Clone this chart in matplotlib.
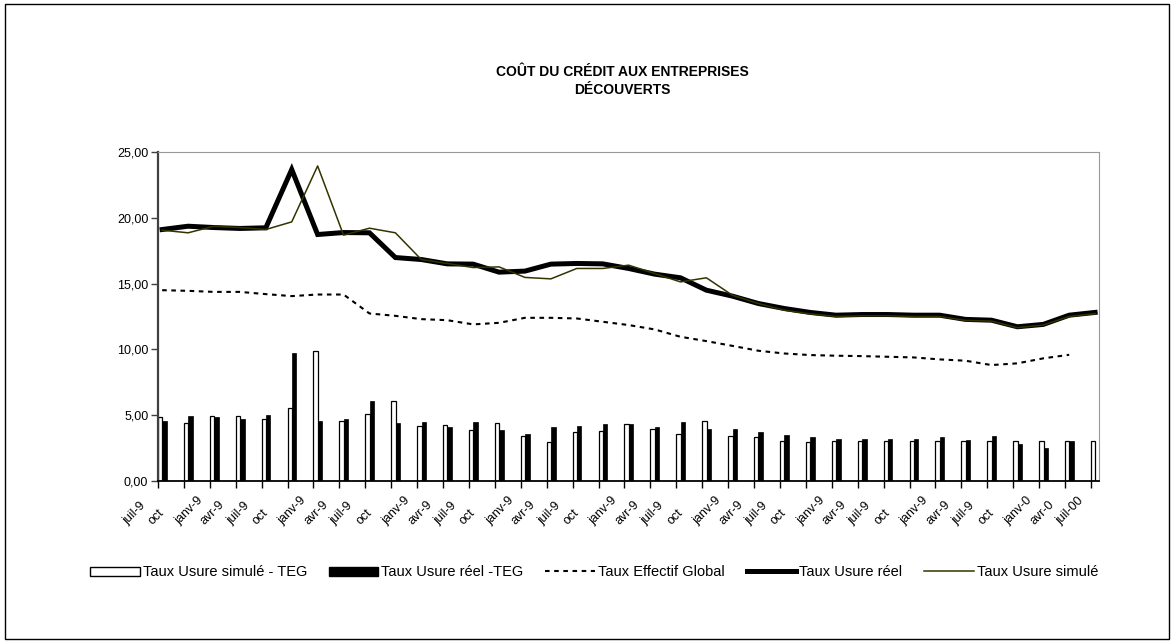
import numpy as np
import matplotlib
matplotlib.use('Agg')
import matplotlib.pyplot as plt
from matplotlib.patches import Rectangle, Patch
from matplotlib.lines import Line2D
from matplotlib.transforms import ScaledTranslation

plt.rcParams['font.family'] = ['Liberation Sans', 'DejaVu Sans']

# trimestres juil-91 .. juil-00 (libellés tronqués comme sur l'original)
etiquettes = ['juil-9', 'oct', 'janv-9', 'avr-9'] * 8 + ['juil-9', 'oct', 'janv-0', 'avr-0', 'juil-00']

usure_reel = [19.11, 19.36, 19.26, 19.19, 19.24, 23.67, 18.73, 18.88, 18.86, 16.98,
              16.83, 16.50, 16.48, 15.87, 15.95, 16.48, 16.53, 16.50, 16.15, 15.72,
              15.44, 14.50, 14.05, 13.49, 13.11, 12.81, 12.60, 12.65, 12.65, 12.60,
              12.60, 12.28, 12.22, 11.72, 11.90, 12.60, 12.81]
usure_simule = [19.06, 18.86, 19.36, 19.26, 19.11, 19.69, 23.94, 18.68, 19.21, 18.86,
                16.83, 16.53, 16.22, 16.27, 15.47, 15.36, 16.15, 16.15, 16.40, 15.77,
                15.13, 15.44, 14.12, 13.49, 12.98, 12.70, 12.50, 12.55, 12.55, 12.50,
                12.50, 12.20, 12.15, 11.65, 11.85, 12.50, 12.72]
teg = [14.50, 14.45, 14.37, 14.37, 14.20, 14.05, 14.17, 14.17, 12.73, 12.55,
       12.30, 12.22, 11.90, 12.02, 12.40, 12.40, 12.35, 12.10, 11.85, 11.52,
       10.96, 10.63, 10.27, 9.90, 9.69, 9.57, 9.52, 9.49, 9.44, 9.39,
       9.24, 9.14, 8.81, 8.94, 9.32, 9.59, np.nan]
simule_moins_teg = [4.88, 4.38, 4.93, 4.91, 4.68, 5.52, 9.90, 4.55, 5.06, 6.10,
                    4.18, 4.25, 3.87, 4.43, 3.44, 2.99, 3.72, 3.80, 4.30, 3.92,
                    3.60, 4.53, 3.44, 3.32, 3.06, 2.99, 3.01, 3.01, 3.01, 3.01,
                    3.01, 3.01, 3.01, 3.01, 3.01, 3.01, 3.01]
reel_moins_teg = [4.55, 4.93, 4.83, 4.73, 5.01, 9.69, 4.55, 4.73, 6.07, 4.40,
                  4.50, 4.12, 4.50, 3.87, 3.57, 4.07, 4.20, 4.35, 4.30, 4.12,
                  4.50, 3.95, 3.92, 3.70, 3.47, 3.34, 3.16, 3.21, 3.21, 3.16,
                  3.37, 3.11, 3.44, 2.81, 2.53, 3.01, np.nan]

x = np.arange(len(etiquettes))
olive = '#333300'

fig = plt.figure(figsize=(11.74, 6.43), dpi=100)
ax = fig.add_axes([158/1174, 1 - 481/643, (1099 - 158)/1174, (481 - 152)/643])

ax.bar(x + 0.085, simule_moins_teg, width=0.17, color='white', edgecolor='black', linewidth=0.9, zorder=2)
ax.bar(x + 0.255, reel_moins_teg, width=0.17, color='black', edgecolor='black', linewidth=0.5, zorder=2)
ax.plot(x + 0.16, teg, color='black', lw=1.5, linestyle=(0, (2.2, 2.2)), zorder=3)
ax.plot(x + 0.16, usure_reel, color='black', lw=3.6, solid_joinstyle='miter', zorder=3)
ax.plot(x + 0.16, usure_simule, color=olive, lw=1.1, zorder=4)

ax.set_xlim(0, 36.31)
ax.set_ylim(0, 25)
ax.set_yticks(np.arange(0, 26, 5))
ax.set_yticklabels([('%.2f' % v).replace('.', ',') for v in np.arange(0, 26, 5)], fontsize=9)
ax.set_xticks(x)
ax.set_xticklabels([])
# libellés obliques : début du texte à gauche du tick, sous l'axe
decal = ScaledTranslation(-31/100, -44/100, fig.dpi_scale_trans)
for xi, lab in zip(x, etiquettes):
    ax.text(xi, 0, lab, fontsize=9, rotation=45, ha='left', va='baseline', rotation_mode='anchor',
            transform=ax.get_xaxis_transform() + decal, clip_on=False)
ax.tick_params(axis='y', length=5, width=1, pad=2, color='#404040')
ax.tick_params(axis='x', length=5, width=1, color='black')

ax.spines['top'].set_color('#999999')
ax.spines['right'].set_color('#999999')
ax.spines['left'].set_color('#404040')
ax.spines['left'].set_linewidth(1.6)
ax.spines['bottom'].set_color('black')
ax.spines['bottom'].set_linewidth(1.3)

fig.text(0.53, 0.874, 'COÛT DU CRÉDIT AUX ENTREPRISES\nDÉCOUVERTS', ha='center', va='center',
         fontsize=10, fontweight='bold', linespacing=1.3)

poignees = [Patch(facecolor='white', edgecolor='black', linewidth=1),
            Patch(facecolor='black', edgecolor='black'),
            Line2D([], [], color='black', lw=1.5, linestyle=(0, (2.2, 2.2))),
            Line2D([], [], color='black', lw=3.6),
            Line2D([], [], color=olive, lw=1.1)]
noms = ['Taux Usure simulé - TEG', 'Taux Usure réel -TEG', 'Taux Effectif Global',
        'Taux Usure réel', 'Taux Usure simulé']
fig.legend(poignees, noms, loc='center', bbox_to_anchor=(0.506, 0.11), ncol=5, frameon=False,
           fontsize=10.5, handlelength=3.4, handleheight=0.55, handletextpad=0.2, columnspacing=1.5)

fig.patches.append(Rectangle((0.004, 0.006), 0.992, 0.988, transform=fig.transFigure,
                             fill=False, edgecolor='black', linewidth=1))

plt.savefig('out.png', dpi=100)
